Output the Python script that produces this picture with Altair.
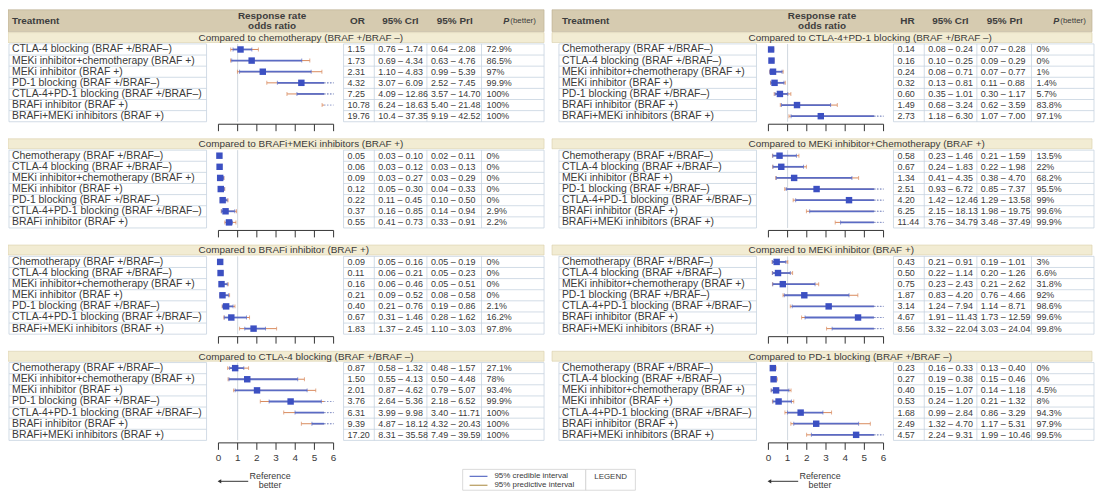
import altair as alt
import pandas as pd

FONT = "Liberation Sans"

# ---------------- data ----------------
CHEMO = "Chemotherapy (BRAF +/BRAF–)"
CTLA4 = "CTLA-4 blocking (BRAF +/BRAF–)"
MEKCH = "MEKi inhibitor+chemotherapy (BRAF +)"
MEKI = "MEKi inhibitor (BRAF +)"
PD1 = "PD-1 blocking (BRAF +/BRAF–)"
COMBO = "CTLA-4+PD-1 blocking (BRAF +/BRAF–)"
BRAFI = "BRAFi inhibitor (BRAF +)"
BRMEK = "BRAFi+MEKi inhibitors (BRAF +)"

LEFT_TITLES = ["Compared to chemotherapy (BRAF +/BRAF –)",
               "Compared to BRAFi+MEKi inhibitors (BRAF +)",
               "Compared to BRAFi inhibitor (BRAF +)",
               "Compared to CTLA-4 blocking (BRAF +/BRAF –)"]
RIGHT_TITLES = ["Compared to CTLA-4+PD-1 blocking (BRAF +/BRAF –)",
                "Compared to MEKi inhibitor+Chemotherapy (BRAF +)",
                "Compared to MEKi inhibitor (BRAF +)",
                "Compared to PD-1 blocking (BRAF +/BRAF –)"]

L1_TREAT = [CTLA4, MEKCH, MEKI, PD1, COMBO, BRAFI, BRMEK]
L1_EST = ["1.15", "1.73", "2.31", "4.32", "7.25", "10.78", "19.76"]
L1_CRI = ["0.76 – 1.74", "0.69 – 4.34", "1.10 – 4.83", "3.07 – 6.09", "4.09 – 12.86", "6.24 – 18.63", "10.4 – 37.35"]
L1_PRI = ["0.64 – 2.08", "0.63 – 4.76", "0.99 – 5.39", "2.52 – 7.45", "3.57 – 14.70", "5.40 – 21.48", "9.19 – 42.52"]
L1_P = ["72.9%", "86.5%", "97%", "99.9%", "100%", "100%", "100%"]

L2_TREAT = [CHEMO, CTLA4, MEKCH, MEKI, PD1, COMBO, BRAFI]
L2_EST = ["0.05", "0.06", "0.09", "0.12", "0.22", "0.37", "0.55"]
L2_CRI = ["0.03 – 0.10", "0.03 – 0.12", "0.03 – 0.27", "0.05 – 0.30", "0.11 – 0.45", "0.16 – 0.85", "0.41 – 0.73"]
L2_PRI = ["0.02 – 0.11", "0.03 – 0.13", "0.03 – 0.29", "0.04 – 0.33", "0.10 – 0.50", "0.14 – 0.94", "0.33 – 0.91"]
L2_P = ["0%", "0%", "0%", "0%", "0%", "2.9%", "2.2%"]

L3_TREAT = [CHEMO, CTLA4, MEKCH, MEKI, PD1, COMBO, BRMEK]
L3_EST = ["0.09", "0.11", "0.16", "0.21", "0.40", "0.67", "1.83"]
L3_CRI = ["0.05 – 0.16", "0.06 – 0.21", "0.06 – 0.46", "0.09 – 0.52", "0.21 – 0.76", "0.31 – 1.46", "1.37 – 2.45"]
L3_PRI = ["0.05 – 0.19", "0.05 – 0.23", "0.05 – 0.51", "0.08 – 0.58", "0.19 – 0.86", "0.28 – 1.62", "1.10 – 3.03"]
L3_P = ["0%", "0%", "0%", "0%", "2.1%", "16.2%", "97.8%"]

L4_TREAT = [CHEMO, MEKCH, MEKI, PD1, COMBO, BRAFI, BRMEK]
L4_EST = ["0.87", "1.50", "2.01", "3.76", "6.31", "9.39", "17.20"]
L4_CRI = ["0.58 – 1.32", "0.55 – 4.13", "0.87 – 4.62", "2.64 – 5.36", "3.99 – 9.98", "4.87 – 18.12", "8.31 – 35.58"]
L4_PRI = ["0.48 – 1.57", "0.50 – 4.48", "0.79 – 5.07", "2.18 – 6.52", "3.40 – 11.71", "4.32 – 20.43", "7.49 – 39.59"]
L4_P = ["27.1%", "78%", "93.4%", "99.9%", "100%", "100%", "100%"]

R1_TREAT = [CHEMO, CTLA4, MEKCH, MEKI, PD1, BRAFI, BRMEK]
R1_EST = ["0.14", "0.16", "0.24", "0.32", "0.60", "1.49", "2.73"]
R1_CRI = ["0.08 – 0.24", "0.10 – 0.25", "0.08 – 0.71", "0.13 – 0.81", "0.35 – 1.01", "0.68 – 3.24", "1.18 – 6.30"]
R1_PRI = ["0.07 – 0.28", "0.09 – 0.29", "0.07 – 0.77", "0.11 – 0.88", "0.30 – 1.17", "0.62 – 3.59", "1.07 – 7.00"]
R1_P = ["0%", "0%", "1%", "1.4%", "5.7%", "83.8%", "97.1%"]

R2_TREAT = [CHEMO, CTLA4, MEKI, PD1, COMBO, BRAFI, BRMEK]
R2_EST = ["0.58", "0.67", "1.34", "2.51", "4.20", "6.25", "11.44"]
R2_CRI = ["0.23 – 1.46", "0.24 – 1.83", "0.41 – 4.35", "0.93 – 6.72", "1.42 – 12.46", "2.15 – 18.13", "3.76 – 34.79"]
R2_PRI = ["0.21 – 1.59", "0.22 – 1.98", "0.38 – 4.70", "0.85 – 7.37", "1.29 – 13.58", "1.98 – 19.75", "3.48 – 37.49"]
R2_P = ["13.5%", "22%", "68.2%", "95.5%", "99%", "99.6%", "99.9%"]

R3_TREAT = [CHEMO, CTLA4, MEKCH, PD1, COMBO, BRAFI, BRMEK]
R3_EST = ["0.43", "0.50", "0.75", "1.87", "3.14", "4.67", "8.56"]
R3_CRI = ["0.21 – 0.91", "0.22 – 1.14", "0.23 – 2.43", "0.83 – 4.20", "1.24 – 7.94", "1.91 – 11.43", "3.32 – 22.04"]
R3_PRI = ["0.19 – 1.01", "0.20 – 1.26", "0.21 – 2.62", "0.76 – 4.66", "1.14 – 8.71", "1.73 – 12.59", "3.03 – 24.04"]
R3_P = ["3%", "6.6%", "31.8%", "92%", "98.6%", "99.6%", "99.8%"]

R4_TREAT = [CHEMO, CTLA4, MEKCH, MEKI, COMBO, BRAFI, BRMEK]
R4_EST = ["0.23", "0.27", "0.40", "0.53", "1.68", "2.49", "4.57"]
R4_CRI = ["0.16 – 0.33", "0.19 – 0.38", "0.15 – 1.07", "0.24 – 1.20", "0.99 – 2.84", "1.32 – 4.70", "2.24 – 9.31"]
R4_PRI = ["0.13 – 0.40", "0.15 – 0.46", "0.14 – 1.18", "0.21 – 1.32", "0.86 – 3.29", "1.17 – 5.31", "1.99 – 10.46"]
R4_P = ["0%", "0%", "4.5%", "8%", "94.3%", "97.9%", "99.5%"]

AXIS_TICKS = [0, 1, 2, 3, 4, 5, 6]
LEGEND_LABELS = ["95% credible interval", "95% predictive interval"]

LEFT = [(L1_TREAT, L1_EST, L1_CRI, L1_PRI, L1_P), (L2_TREAT, L2_EST, L2_CRI, L2_PRI, L2_P),
        (L3_TREAT, L3_EST, L3_CRI, L3_PRI, L3_P), (L4_TREAT, L4_EST, L4_CRI, L4_PRI, L4_P)]
RIGHT = [(R1_TREAT, R1_EST, R1_CRI, R1_PRI, R1_P), (R2_TREAT, R2_EST, R2_CRI, R2_PRI, R2_P),
         (R3_TREAT, R3_EST, R3_CRI, R3_PRI, R3_P), (R4_TREAT, R4_EST, R4_CRI, R4_PRI, R4_P)]
PANELS = [(LEFT_TITLES, LEFT, "OR"), (RIGHT_TITLES, RIGHT, "HR")]

# ---------------- layout (page px) ----------------
DX = 554
PANEL_L, PANEL_R = 8, 548
HEAD_Y0, HEAD_Y1 = 8, 30
BAR_TOP = [31, 138, 245, 352]
BAR_H = 10
ROW0 = 17
ROW_H = 11.2
NROW = 7
AX0, AX1 = 220, 336
TREAT_X0, TREAT_X1 = 9, 208
VAL_SEPS = [346, 377, 430, 485, 548]
COL_X = [350, 381, 434, 490]
CUT, AXMAX = 5.5, 6.0

C_TEXT = "#3a3a3a"
C_HEAD = "#d6cbb0"
C_BAR = "#f2ecd3"
C_BAR_STROKE = "#d8cea9"
C_GRID = "#c6d3e0"
C_CRI = "#5a6bc4"
C_PRI = "#d98a5e"
C_PT = "#3c50c2"


def XP(f="x"):
    return alt.X(f"{f}:Q", scale=alt.Scale(domain=[8, 1104], range=[0, 1096], nice=False, zero=False), axis=None)


def YP(f="y"):
    return alt.Y(f"{f}:Q", scale=alt.Scale(domain=[8, 492], range=[0, 484], nice=False, zero=False), axis=None)


def XO(p, f="v"):
    x0 = AX0 + p * DX - 8
    return alt.X(f"{f}:Q", scale=alt.Scale(domain=[0, 6], range=[x0, x0 + (AX1 - AX0)], nice=False, zero=False),
                 axis=None)


# ---------------- build tables ----------------
rows = []
for p, (titles, secs, hr) in enumerate(PANELS):
    for k, (treat, est, cri, pri, pb) in enumerate(secs):
        for i in range(NROW):
            lo, hi = [float(v) for v in cri[i].split(" – ")]
            plo, phi = [float(v) for v in pri[i].split(" – ")]
            rows.append(dict(panel=p, sec=k, i=i, treat=treat[i], est_s=est[i], est=float(est[i]),
                             cri_s=cri[i], pri_s=pri[i], p_s=pb[i], crlo=lo, crhi=hi, prlo=plo, prhi=phi,
                             y=BAR_TOP[k] + ROW0 + i * ROW_H))
df = pd.DataFrame(rows)

treat_texts, val_texts = [], []
for r in df.itertuples():
    dx = r.panel * DX
    treat_texts.append(dict(x=TREAT_X0 + 3 + dx, y=r.y, t=r.treat))
    val_texts.append(dict(x=COL_X[0] + dx, y=r.y, t=r.est_s))
    val_texts.append(dict(x=COL_X[1] + dx, y=r.y, t=r.cri_s))
    val_texts.append(dict(x=COL_X[2] + dx, y=r.y, t=r.pri_s))
    val_texts.append(dict(x=COL_X[3] + dx, y=r.y, t=r.p_s))
treat_df = pd.DataFrame(treat_texts)
val_df = pd.DataFrame(val_texts)

head_rects, bar_rects, bar_texts = [], [], []
head_left, head_bold_center = [], []
grid_h, grid_v = [], []
for p, (titles, secs, hr) in enumerate(PANELS):
    dx = p * DX
    xl = PANEL_L + dx if p == 0 else 556
    xr = PANEL_R + dx if p == 0 else 1100
    head_rects.append(dict(x=xl, x2=xr, y=HEAD_Y0, y2=HEAD_Y1))
    head_left.append(dict(x=12 + dx, y=19.5, t="Treatment"))
    head_bold_center.append(dict(x=274 + dx, y=14.5, t="Response rate"))
    head_bold_center.append(dict(x=274 + dx, y=24, t="odds ratio"))
    head_bold_center.append(dict(x=360 + dx, y=19.5, t=hr))
    head_left.append(dict(x=385 + dx, y=19.5, t="95% CrI"))
    head_left.append(dict(x=440 + dx, y=19.5, t="95% PrI"))
    for k in range(4):
        bt = BAR_TOP[k]
        bar_rects.append(dict(x=xl, x2=xr, y=bt, y2=bt + BAR_H))
        bar_texts.append(dict(x=200 + dx, y=bt + BAR_H / 2 + 0.5, t=titles[k]))
        top = bt + ROW0 - ROW_H / 2
        for j in range(NROW + 1):
            yy = top + j * ROW_H
            grid_h.append(dict(x=TREAT_X0 + dx, x2=TREAT_X1 + dx, y=yy))
            grid_h.append(dict(x=VAL_SEPS[0] + dx, x2=VAL_SEPS[-1] + dx, y=yy))
        for xv in [TREAT_X0, TREAT_X1] + VAL_SEPS:
            grid_v.append(dict(x=xv + dx, y=top, y2=top + NROW * ROW_H))

layers = []
layers.append(alt.Chart(pd.DataFrame(head_rects)).mark_rect(fill=C_HEAD, stroke="#b9ad8f", strokeWidth=0.6).encode(
    x=XP("x"), x2="x2:Q", y=YP("y"), y2="y2:Q"))
layers.append(alt.Chart(pd.DataFrame(bar_rects)).mark_rect(fill=C_BAR, stroke=C_BAR_STROKE, strokeWidth=0.6).encode(
    x=XP("x"), x2="x2:Q", y=YP("y"), y2="y2:Q"))
layers.append(alt.Chart(pd.DataFrame(grid_h)).mark_rule(color=C_GRID, strokeWidth=0.8).encode(
    x=XP("x"), x2="x2:Q", y=YP("y")))
layers.append(alt.Chart(pd.DataFrame(grid_v)).mark_rule(color=C_GRID, strokeWidth=0.8).encode(
    x=XP("x"), y=YP("y"), y2="y2:Q"))

# forest plots per panel
for p in range(2):
    sub = df[df.panel == p]
    refs, axes, ticks, labels = [], [], [], []
    for k in range(4):
        top = BAR_TOP[k] + ROW0 - ROW_H / 2
        bot = top + NROW * ROW_H
        refs.append(dict(v=1, y=top, y2=bot))
        ay = bot + 2.5
        axes.append(dict(v=0, v2=6, y=ay))
        for t in AXIS_TICKS:
            ticks.append(dict(v=t, y=ay, y2=ay + 7))
            if k == 3:
                labels.append(dict(v=t, y=ay + 15, t=str(t)))
    segs, caps = [], []
    for r in sub.itertuples():
        for kind, lo, hi in (("pri", r.prlo, r.prhi), ("cri", r.crlo, r.crhi)):
            if hi <= AXMAX:
                segs.append(dict(kind=kind, style="solid", v=lo, v2=hi, y=r.y))
            else:
                if lo < CUT:
                    segs.append(dict(kind=kind, style="solid", v=lo, v2=CUT, y=r.y))
                segs.append(dict(kind=kind, style="dot", v=max(min(lo, AXMAX), CUT), v2=AXMAX, y=r.y))
            for e in (lo, hi):
                if e <= CUT:
                    caps.append(dict(kind=kind, v=e, y=r.y))
    seg_df = pd.DataFrame(segs)
    cap_df = pd.DataFrame(caps)
    pts = sub[sub.est < AXMAX][["est", "y"]].rename(columns={"est": "v"})

    layers.append(alt.Chart(pd.DataFrame(refs)).mark_rule(color="#d0d7df", strokeWidth=1).encode(
        x=XO(p), y=YP("y"), y2="y2:Q"))
    layers.append(alt.Chart(pd.DataFrame(axes)).mark_rule(color="#333333", strokeWidth=1).encode(
        x=XO(p), x2="v2:Q", y=YP("y")))
    layers.append(alt.Chart(pd.DataFrame(ticks)).mark_rule(color="#333333", strokeWidth=1).encode(
        x=XO(p), y=YP("y"), y2="y2:Q"))
    layers.append(alt.Chart(pd.DataFrame(labels)).mark_text(font=FONT, fontSize=10, color=C_TEXT).encode(
        x=XO(p), y=YP("y"), text="t:N"))
    layers.append(alt.Chart(seg_df[(seg_df.kind == "pri") & (seg_df["style"] == "solid")]).mark_rule(
        color=C_PRI, strokeWidth=1).encode(x=XO(p), x2="v2:Q", y=YP("y")))
    layers.append(alt.Chart(seg_df[(seg_df.kind == "cri") & (seg_df["style"] == "solid")]).mark_rule(
        color=C_CRI, strokeWidth=1.8).encode(x=XO(p), x2="v2:Q", y=YP("y")))
    layers.append(alt.Chart(seg_df[seg_df["style"] == "dot"]).mark_rule(
        color="#8d98c9", strokeWidth=1, strokeDash=[1.5, 1.5]).encode(x=XO(p), x2="v2:Q", y=YP("y")))
    layers.append(alt.Chart(cap_df[cap_df.kind == "pri"]).mark_tick(
        orient="vertical", size=4, thickness=1, color=C_PRI).encode(x=XO(p), y=YP("y")))
    layers.append(alt.Chart(cap_df[cap_df.kind == "cri"]).mark_tick(
        orient="vertical", size=4, thickness=1, color=C_CRI).encode(x=XO(p), y=YP("y")))
    layers.append(alt.Chart(pts).mark_square(size=42, color=C_PT, opacity=1).encode(x=XO(p), y=YP("y")))

# texts
layers.append(alt.Chart(treat_df).mark_text(align="left", baseline="middle", font=FONT, fontSize=10.5,
                                            color=C_TEXT).encode(x=XP("x"), y=YP("y"), text="t:N"))
layers.append(alt.Chart(val_df).mark_text(align="left", baseline="middle", font=FONT, fontSize=9,
                                          color=C_TEXT).encode(x=XP("x"), y=YP("y"), text="t:N"))
layers.append(alt.Chart(pd.DataFrame(bar_texts)).mark_text(align="left", baseline="middle", font=FONT, fontSize=10,
                                                           color=C_TEXT).encode(x=XP("x"), y=YP("y"), text="t:N"))
layers.append(alt.Chart(pd.DataFrame(head_left)).mark_text(align="left", baseline="middle", font=FONT, fontSize=10,
                                                           fontWeight="bold", color="#3d3d3d").encode(
    x=XP("x"), y=YP("y"), text="t:N"))
layers.append(alt.Chart(pd.DataFrame(head_bold_center)).mark_text(align="center", baseline="middle", font=FONT,
                                                                  fontSize=10, fontWeight="bold",
                                                                  color="#3d3d3d").encode(
    x=XP("x"), y=YP("y"), text="t:N"))
pb_df = pd.DataFrame([dict(x=507 + p * DX, y=19.5, t="P") for p in range(2)])
pb2_df = pd.DataFrame([dict(x=514 + p * DX, y=19.5, t="(better)") for p in range(2)])
layers.append(alt.Chart(pb_df).mark_text(align="left", baseline="middle", font=FONT, fontSize=9,
                                         fontStyle="italic", fontWeight="bold", color="#3d3d3d").encode(
    x=XP("x"), y=YP("y"), text="t:N"))
layers.append(alt.Chart(pb2_df).mark_text(align="left", baseline="middle", font=FONT, fontSize=8,
                                          color="#3d3d3d").encode(x=XP("x"), y=YP("y"), text="t:N"))

# reference better
ref_lines = pd.DataFrame([dict(x=221 + p * DX, x2=250 + p * DX, y=483) for p in range(2)])
ref_heads = pd.DataFrame([dict(x=221 + p * DX, y=483) for p in range(2)])
ref_txt = pd.DataFrame([dict(x=272 + p * DX, y=y, t=t) for p in range(2)
                        for y, t in ((478, "Reference"), (487, "better"))])
layers.append(alt.Chart(ref_lines).mark_rule(color="#333333", strokeWidth=1).encode(
    x=XP("x"), x2="x2:Q", y=YP("y")))
layers.append(alt.Chart(ref_heads).mark_point(shape="triangle-left", size=18, filled=True, color="#333333",
                                              opacity=1).encode(x=XP("x"), y=YP("y")))
layers.append(alt.Chart(ref_txt).mark_text(align="center", baseline="middle", font=FONT, fontSize=9,
                                           color=C_TEXT).encode(x=XP("x"), y=YP("y"), text="t:N"))

# legend
leg_box = pd.DataFrame([dict(x=466, x2=590, y=471, y2=492), dict(x=590, x2=640, y=471, y2=492)])
leg_lines = pd.DataFrame([dict(x=473, x2=491, y=478, c="cri"), dict(x=473, x2=491, y=487, c="pri")])
leg_txt = pd.DataFrame([dict(x=498, y=478, t=LEGEND_LABELS[0]), dict(x=498, y=487, t=LEGEND_LABELS[1])])
layers.append(alt.Chart(leg_box).mark_rect(fill="white", stroke="#d0d0d0", strokeWidth=0.8).encode(
    x=XP("x"), x2="x2:Q", y=YP("y"), y2="y2:Q"))
layers.append(alt.Chart(leg_lines).mark_rule(strokeWidth=1.2).encode(
    x=XP("x"), x2="x2:Q", y=YP("y"),
    color=alt.Color("c:N", scale=alt.Scale(domain=["cri", "pri"], range=[C_CRI, "#b59a5a"]), legend=None)))
layers.append(alt.Chart(leg_txt).mark_text(align="left", baseline="middle", font=FONT, fontSize=8,
                                           color=C_TEXT).encode(x=XP("x"), y=YP("y"), text="t:N"))
layers.append(alt.Chart(pd.DataFrame([dict(x=615, y=479, t="LEGEND")])).mark_text(
    align="center", baseline="middle", font=FONT, fontSize=8, color=C_TEXT).encode(
    x=XP("x"), y=YP("y"), text="t:N"))

chart = alt.layer(*layers).resolve_scale(x="independent").properties(
    width=1096, height=484, autosize=alt.AutoSizeParams(type="none"), padding=0,
    background="white").configure_view(stroke=None)

chart.save("out.html", embed_options={"renderer": "svg", "actions": False})
